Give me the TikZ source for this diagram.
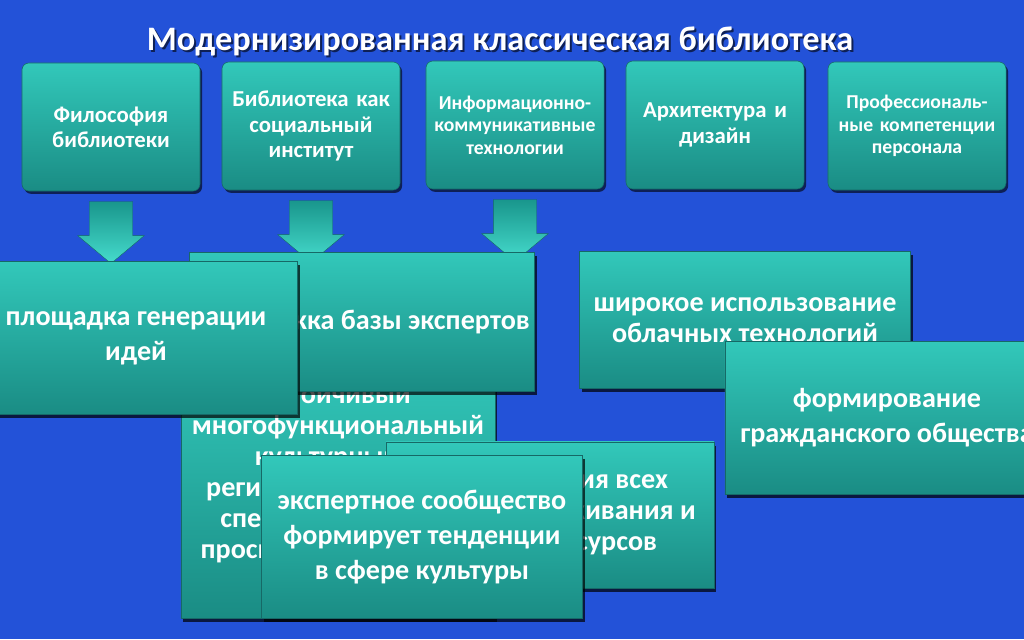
\documentclass[tikz,border=0pt]{standalone}
\usepackage{fontspec}
\setmainfont{Carlito}
\usetikzlibrary{positioning,shapes.arrows,shadows,calc}

\definecolor{fonblue}{RGB}{35,82,216}
\definecolor{tealtop}{RGB}{50,200,186}
\definecolor{tealbot}{RGB}{26,140,132}
\definecolor{tealedge}{RGB}{22,105,102}
\definecolor{arrowlight}{RGB}{70,220,205}
\definecolor{arrowdark}{RGB}{25,150,140}

\begin{document}
\begin{tikzpicture}[x=0.025cm, y=-0.025cm,
    topbox/.style={rounded corners=5pt, top color=tealtop, bottom color=tealbot, draw=tealedge, line width=0.4pt,
        minimum width=4.45cm, minimum height=3.2cm, text width=4.2cm, align=center, text=white,
        font=\bfseries\fontsize{16.2}{18}\selectfont,
        drop shadow={shadow xshift=1.5pt, shadow yshift=-2pt, opacity=0.6, fill=black}},
    smalltext/.style={font=\bfseries\fontsize{14}{16}\selectfont},
    lowbox/.style={top color=tealtop, bottom color=tealbot, draw=tealedge, line width=0.4pt,
        align=center, text=white, font=\bfseries\fontsize{20}{22}\selectfont,
        drop shadow={shadow xshift=1.5pt, shadow yshift=-2.5pt, opacity=0.7, fill=black}},
    widelines/.style={font=\bfseries\fontsize{20}{25}\selectfont},
    downarrow/.style={single arrow, rotate=-90, anchor=tail, inner xsep=0pt, inner ysep=0.5375cm,
        minimum height=1.55cm, single arrow head extend=0.29cm,
        single arrow tip angle=100, top color=arrowdark, bottom color=arrowlight, draw=tealedge, line width=0.3pt}
]
\useasboundingbox (0,0) rectangle (1024,639);
\clip (0,0) rectangle (1024,639);
\fill[fonblue] (0,0) rectangle (1024,639);

% Title
\node[text=black, opacity=0.6, font=\bfseries\fontsize{24.4}{30}\selectfont] (titleshadow) at (502,43) {Модернизированная классическая библиотека};
\node[text=white, font=\bfseries\fontsize{24.4}{30}\selectfont] (title) at (500,41) {Модернизированная классическая библиотека};

% Top row
\node[topbox] (t1) at (111,127) {Философия\\библиотеки};
\node[topbox] (t2) at (311,126) {Библиотека как\\социальный\\институт};
\node[topbox, smalltext] (t3) at (515,125) {Информационно-\\коммуникативные\\технологии};
\node[topbox] (t4) at (715,125) {Архитектура и\\дизайн};
\node[topbox, smalltext] (t5) at (917,126) {Профессиональ-\\ные компетенции\\персонала};

% Arrows
\node[downarrow] (a1) at ($(t1.south)+(0,10)$) {};
\node[downarrow] (a2) at ($(t2.south)+(0,10)$) {};
\node[downarrow] (a3) at ($(t3.south)+(0,10)$) {};

% Lower boxes, back to front
\node[lowbox, minimum width=7.85cm, minimum height=6.45cm] (centr) at (338,489)
    {устойчивый\\многофункциональный\\культурный и\\региональный центр,\\специальная среда\\просвещения и досуга\\для всех};
\node[lowbox, minimum width=8.225cm, minimum height=3.475cm] (baza) at (362,322) {поддержка базы экспертов};
\node[lowbox, widelines, minimum width=8.075cm, minimum height=3.825cm] (ploshch) at (136,338) {площадка генерации\\идей};
\node[lowbox, minimum width=8.2cm, minimum height=3.65cm] (integr) at (550,515) {консолидация всех\\систем обслуживания и\\сетевых ресурсов};
\node[lowbox, widelines, minimum width=8.025cm, minimum height=4.075cm] (ekspert) at (422,537) {экспертное сообщество\\формирует тенденции\\в сфере культуры};
\node[lowbox, minimum width=8.275cm, minimum height=3.425cm] (oblako) at (745,320) {широкое использование\\облачных технологий};
\node[lowbox, widelines, minimum width=8.1cm, minimum height=3.825cm] (obshch) at (887,418) {формирование\\гражданского общества};
\end{tikzpicture}
\end{document}
